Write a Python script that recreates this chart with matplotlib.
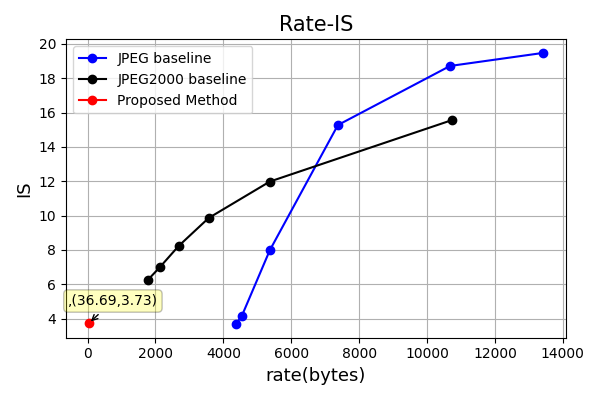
import matplotlib
matplotlib.use("Agg")
import matplotlib.pyplot as plt

# rate (bytes) vs IS for each method
jpeg_rate = [4366, 4543, 5369, 7375, 10678, 13422]
jpeg_is = [3.68, 4.15, 7.98, 15.27, 18.71, 19.47]

j2k_rate = [1770, 2124, 2684, 3569, 5369, 10737]
j2k_is = [6.24, 6.98, 8.23, 9.86, 11.98, 15.56]

prop_rate = [36.69]
prop_is = [3.73]

plt.figure(figsize=(6, 4), dpi=100)
plt.plot(jpeg_rate, jpeg_is, 'o-', color='blue', label='JPEG baseline')
plt.plot(j2k_rate, j2k_is, 'o-', color='black', label='JPEG2000 baseline')
plt.plot(prop_rate, prop_is, 'o-', color='red', label='Proposed Method')

# label the proposed point
for x, y in zip(prop_rate, prop_is):
    plt.annotate(",({},{})".format(x, y), xy=(x, y), xytext=(-15, 11),
                 textcoords='offset points', ha='left', va='bottom',
                 bbox=dict(boxstyle='round,pad=0.3', fc='yellow', alpha=0.25),
                 arrowprops=dict(arrowstyle='->', connectionstyle='arc3,rad=0'))

plt.title("Rate-IS", fontsize=15)
plt.xlabel("rate(bytes)", fontsize=13)
plt.ylabel("IS", fontsize=13)
plt.grid(True)
plt.legend(loc='upper left')
plt.tight_layout()
plt.savefig("out.png")
